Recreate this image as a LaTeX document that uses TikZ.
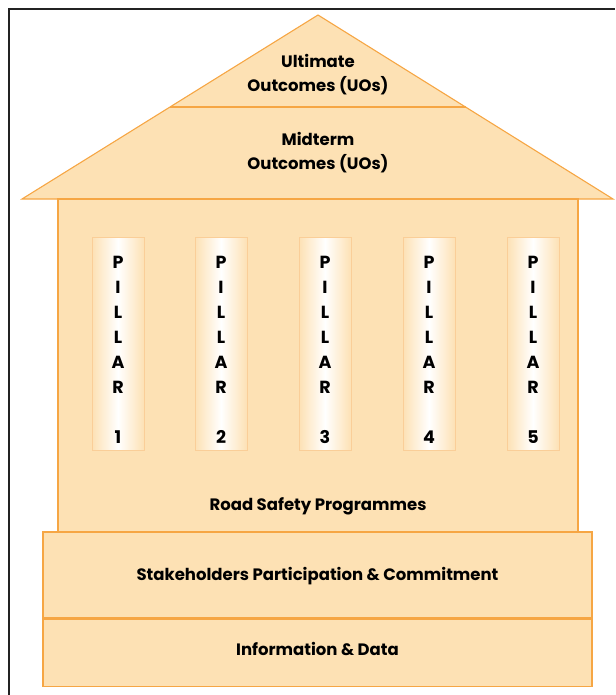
\documentclass[tikz,border=0pt]{standalone}
\usepackage{fontspec}
\setmainfont{Poppins}
\usetikzlibrary{positioning,calc}
\definecolor{houseFill}{RGB}{253,225,180}
\definecolor{houseLine}{RGB}{246,166,68}
\definecolor{frameLine}{RGB}{35,35,35}
\tikzset{
    part/.style={
        draw=houseLine,
        fill=houseFill,
        line width=1.1pt,
    },
    layer/.style={
        part,
        rectangle,
        minimum width=549pt,
        inner sep=0pt,
    },
    pillar/.style={
        rectangle,
        draw=houseLine!55,
        line width=0.8pt,
        left color=houseFill,
        right color=houseFill,
        middle color=white,
        minimum width=52pt,
        minimum height=213pt,
        inner sep=0pt,
    },
    pillartext/.style={
        align=center,
        inner sep=0pt,
        font=\bfseries\fontsize{17.5}{25}\selectfont,
    },
    caption/.style={
        align=center,
        font=\bfseries\fontsize{16.5}{24}\selectfont,
    },
  }

\begin{document}
\begin{tikzpicture}[x=1pt,y=-1pt]
  \useasboundingbox (0,0) rectangle (615,695);
  \draw[frameLine, line width=1.3pt] (9,695) -- (9,9) -- (615,9);

  % roof
  \coordinate (apex) at (318,15);
  \coordinate (eaveL) at (22,199);
  \coordinate (eaveR) at (613,199);
  \draw[part, line join=miter] (eaveL) -- (apex) -- (eaveR) -- cycle;
  \draw[part] ($(apex)!0.5!(eaveL)$) -- ($(apex)!0.5!(eaveR)$);
  \node[caption] (uo) at (318,75) {Ultimate\\Outcomes (UOs)};
  \node[caption] (mo) at (318,152.5) {Midterm\\Outcomes (UOs)};

  % body
  \draw[part] (58,199) rectangle (578,533);
  \foreach \n/\x in {1/118,2/221,3/325,4/429,5/533}{
    \node[pillar] (p\n) at (\x,344) {};
    \node[pillartext] (t\n) at ([yshift=-6pt]p\n.center) {P\\I\\L\\L\\A\\R\\[25pt]\n};
  }
  \node[caption] (rsp) at (318,506) {Road Safety Programmes};

  % base
  \node[layer, minimum height=86pt] (spc) at (317.5,575) {};
  \node[layer, minimum height=67pt, below=0pt of spc] (idata) {};
  \node[caption] at ([yshift=-1pt]spc.center) {Stakeholders Participation \& Commitment};
  \node[caption] at ([yshift=3.5pt]idata.center) {Information \& Data};
\end{tikzpicture}
\end{document}
